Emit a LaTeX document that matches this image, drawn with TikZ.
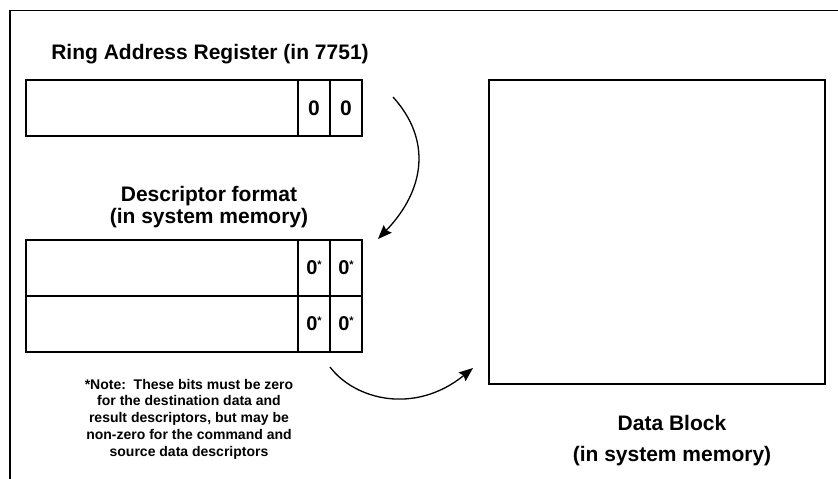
\documentclass[tikz,border=0pt]{standalone}
\usepackage{fontspec}
\setmainfont{Liberation Sans}
\usetikzlibrary{arrows.meta}
\tikzset{
  field/.style={draw, line width=1.6pt, inner sep=0pt, minimum height=56pt},
  bigfield/.style={field, minimum width=272pt},
  bitcell/.style={field, minimum width=32pt},
  label/.style={font=\bfseries\fontsize{21}{24}\selectfont, inner sep=0pt, anchor=base},
  bitfont/.style={font=\bfseries\fontsize{21}{24}\selectfont},
  starfont/.style={font=\bfseries\fontsize{20}{22}\selectfont},
  note/.style={font=\bfseries\fontsize{14}{16.7}\selectfont, align=center, inner sep=0pt, anchor=base},
  flow/.style={line width=1.3pt, -{Stealth[length=14pt, width=11pt, inset=2pt]}},
  frameline/.style={line width=1.6pt}
}
\newcommand{\starbit}{0\raisebox{6pt}{\fontsize{11}{11}\selectfont*}}
\begin{document}
\begin{tikzpicture}[x=1pt, y=-1pt]
\useasboundingbox (0,0) rectangle (838,479);

% open frame: top and left edges
\coordinate (fa) at (10,479);
\coordinate (fb) at (10,10.5);
\coordinate (fc) at (838,10.5);
\draw[frameline] (fa) -- (fb) -- (fc);

% ring address register
\node[label] (regtitle) at (210,59.5) {Ring Address Register (in 7751)};
\node[bigfield] (reg) at (162,108) {};
\node[bitcell, bitfont] (regb1) at (314,108) {0};
\node[bitcell, bitfont] (regb0) at (346,108) {0};

% descriptor format
\node[label] (desctitle1) at (209,201) {Descriptor format};
\node[label] (desctitle2) at (209,223) {(in system memory)};
\node[bigfield] (descA) at (162,268) {};
\node[bitcell, starfont] (descA1) at (314,268) {\starbit};
\node[bitcell, starfont] (descA0) at (346,268) {\starbit};
\node[bigfield] (descB) at (162,324) {};
\node[bitcell, starfont] (descB1) at (314,324) {\starbit};
\node[bitcell, starfont] (descB0) at (346,324) {\starbit};

% footnote (anchored on the baseline of its last line)
\node[note] (footnote) at (189,456) {*Note:\ \ These bits must be zero\\
for the destination data and\\
result descriptors, but may be\\
non-zero for the command and\\
source data descriptors};

% data block
\node[draw, line width=1.6pt, minimum width=336pt, minimum height=304pt, inner sep=0pt] (data) at (657,232) {};
\node[label] (datatitle1) at (672,430) {Data Block};
\node[label] (datatitle2) at (672,461) {(in system memory)};

% pointer arrows
\coordinate (p1s) at (393,97);
\coordinate (p1e) at (378,239);
\draw[flow] (p1s) .. controls (432,140) and (425,190) .. (p1e);
\coordinate (p2s) at (330,367);
\coordinate (p2e) at (473,368);
\draw[flow] (p2s) .. controls (355,400) and (415,415) .. (p2e);
\end{tikzpicture}
\end{document}
